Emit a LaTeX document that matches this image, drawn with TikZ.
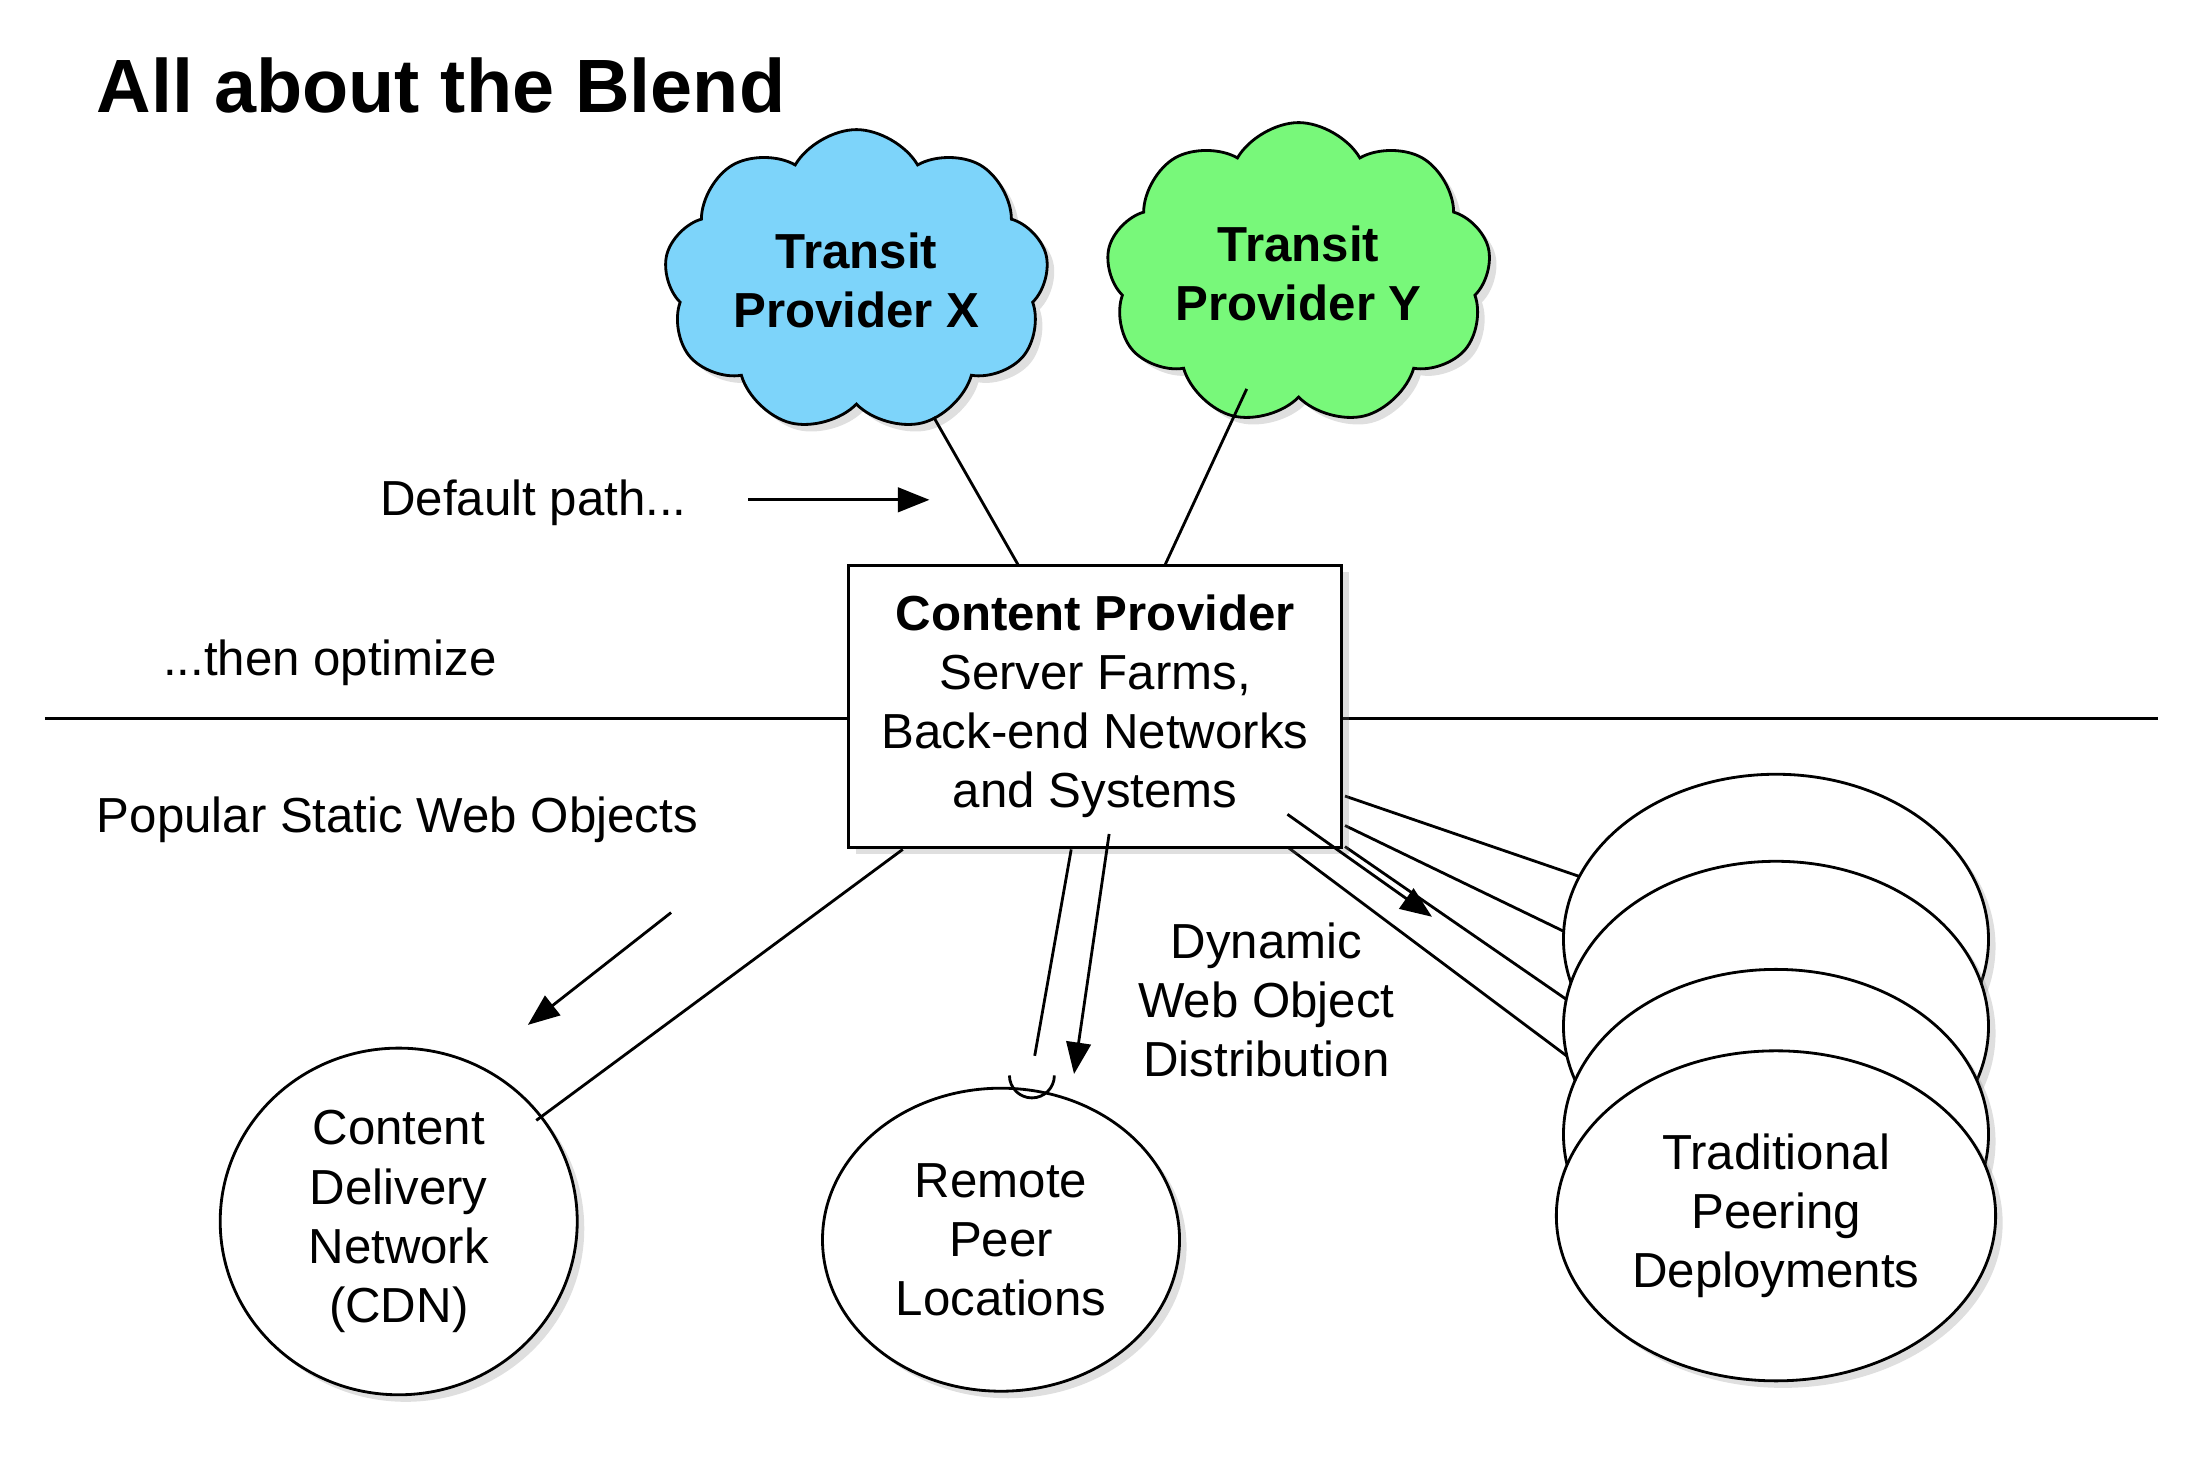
\documentclass[tikz,border=0pt]{standalone}
\usepackage{fontspec}
\setmainfont{Liberation Sans}
\usetikzlibrary{shapes.symbols,shapes.geometric,shadows,arrows.meta}
\begin{document}
\begin{tikzpicture}[x=0.01404cm,y=-0.01404cm,
  txt/.style={font=\fontsize{14}{16.8}\selectfont,align=center},
  sh/.style={drop shadow={shadow xshift=2pt,shadow yshift=-2pt,opacity=0.25}},
  ell/.style={draw,thick,fill=white,ellipse,sh},
  cl/.style={cloud,cloud puffs=9,cloud puff arc=120,aspect=1.4,inner sep=0pt,draw,thick,sh,minimum width=3.85cm,minimum height=2.75cm,
     font=\fontsize{14}{16.8}\selectfont\bfseries,align=center},
  arr/.style={thick,-{Triangle[length=9pt,width=7pt]}},
  ln/.style={thick}]
\useasboundingbox (0,0) rectangle (1560.6,1041.3);
\definecolor{cblue}{HTML}{7DD4FA}
\definecolor{cgreen}{HTML}{78F87A}
\node[anchor=base west,font=\fontsize{21.5}{26}\selectfont\bfseries] (title) at (60,80) {All about the Blend};
\node[cl,fill=cblue] (X) at (610,200) {Transit\\Provider X};
\node[cl,fill=cgreen] (Y) at (925,195) {Transit\\Provider Y};
\coordinate (hl) at (32,512); \coordinate (hr) at (1537,512);
\draw[ln] (hl) -- (hr);
\coordinate (p1) at (958,567); \coordinate (p2) at (958,588); \coordinate (p3) at (958,603); \coordinate (p4) at (918,604);
\coordinate (q1) at (1200,650); \coordinate (q2) at (1200,705); \coordinate (q3) at (1200,770); \coordinate (q4) at (1200,815);
\draw[ln] (p1)--(q1) (p2)--(q2) (p3)--(q3) (p4)--(q4);
\node[ell,minimum width=4.25cm,minimum height=3.3cm] (t1) at (1265,669) {};
\node[ell,minimum width=4.25cm,minimum height=3.3cm] (t2) at (1265,731) {};
\node[ell,minimum width=4.25cm,minimum height=3.3cm] (t3) at (1265,808) {};
\node[ell,minimum width=4.25cm,minimum height=3.3cm,txt] (t4) at (1265,866) {Traditional\\Peering\\Deployments};
\node[draw,thick,fill=white,sh,minimum width=4.93cm,minimum height=2.82cm,txt] (cp) at (780,503)
  {\textbf{Content Provider}\\Server Farms,\\Back-end Networks\\and Systems};
\draw[ln] (665,297) -- (725,402);
\draw[ln] (888,277) -- (830,402);
\node[txt] (dp) at (380,358) {Default path...};
\coordinate (da) at (533,356); \coordinate (db) at (662,356);
\draw[arr] (da) -- (db);
\node[txt] (opt) at (235,472) {...then optimize};
\node[txt] (pop) at (283,584) {Popular Static Web Objects};
\coordinate (pa) at (478,650); \coordinate (pb) at (376,730);
\draw[arr] (pa) -- (pb);
\node[ell,txt,minimum width=3.57cm,minimum height=3.0cm] (cdn) at (284,870) {Content\\Delivery\\Network\\(CDN)};
\draw[ln] (643,605) -- (382,798);
\node[ell,txt,minimum width=3.57cm,minimum height=3.03cm] (rp) at (713,883) {Remote\\Peer\\Locations};
\draw[ln] (763,605) -- (737,752);
\draw[ln] (719,766) arc (180:0:16);
\draw[arr] (790,594) -- (765,765);
\node[txt] (dyn) at (902,712) {Dynamic\\Web Object\\Distribution};
\draw[arr] (917,580) -- (1020,653);
\end{tikzpicture}
\end{document}
